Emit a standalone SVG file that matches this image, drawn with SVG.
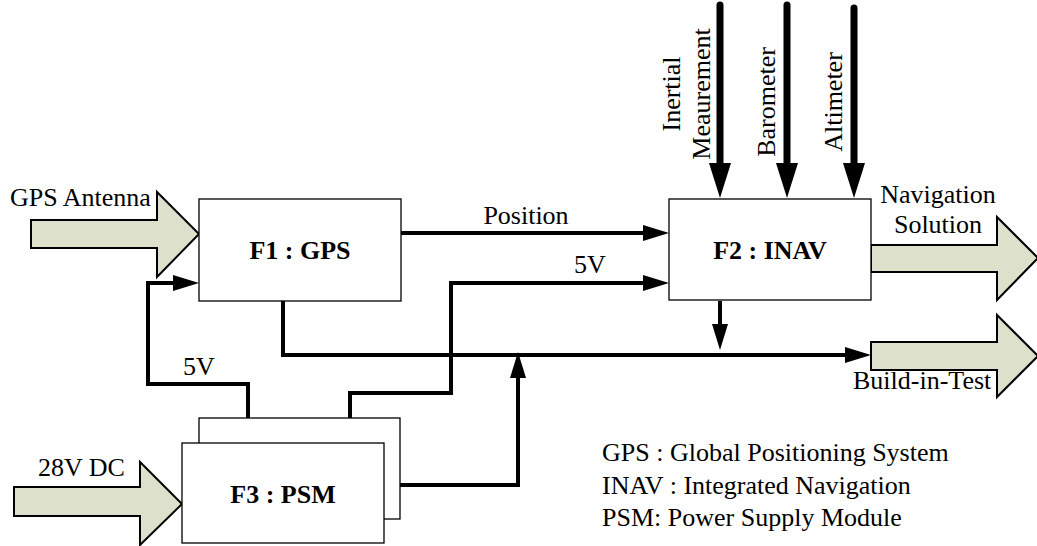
<svg xmlns="http://www.w3.org/2000/svg" width="1037" height="546" viewBox="0 0 1037 546">
<style>
.title{font-weight:bold;text-anchor:middle}
.box{fill:#fff;stroke:#000;stroke-width:1.3}
.fat{fill:#dde1cb;stroke:#000;stroke-width:2;stroke-linejoin:miter}
.wire{fill:none;stroke:#000;stroke-width:4;stroke-linejoin:miter}
.big{fill:none;stroke:#000;stroke-width:7;stroke-linecap:round}
</style>
<defs>
<marker id="ah" markerUnits="userSpaceOnUse" markerWidth="26" markerHeight="16" refX="16" refY="8" orient="auto" overflow="visible">
<path d="M0,0 L26,8 L0,16 Z" fill="#000"/>
</marker>
<marker id="bh" markerUnits="userSpaceOnUse" markerWidth="35" markerHeight="22" refX="20" refY="11" orient="auto" overflow="visible">
<path d="M0,0 L35,11 L0,22 Z" fill="#000"/>
</marker>
</defs>
<g font-family="'Liberation Serif', 'Times New Roman', serif" font-size="26" fill="#000">
<g id="inputs">
<polygon class="fat" points="31,220 157,220 157,192 199,234 157,277 157,248 31,248"/>
<text x="10" y="206">GPS Antenna</text>
<polygon class="fat" points="14,487 140,487 140,462 182,504 140,545 140,516 14,516"/>
<text x="38" y="476">28V DC</text>
</g>

<g id="outputs">
<polygon class="fat" points="871,245 997,245 997,217 1038,258 997,300 997,272 871,272"/>
<text x="938" y="203" text-anchor="middle">Navigation</text>
<text x="938" y="233" text-anchor="middle">Solution</text>
<polygon class="fat" points="871,342 997,342 997,315 1038,356 997,397 997,370 871,370"/>
<text x="853" y="389">Build-in-Test</text>
</g>

<g id="connectors">
<path class="wire" d="M401,233 H659" marker-end="url(#ah)"/>
<path class="wire" d="M350,418 V393 H451 V283 H659" marker-end="url(#ah)"/>
<path class="wire" d="M248,443 V384 H148 V283 H189" marker-end="url(#ah)"/>
<path class="wire" d="M283,301 V355 H861" marker-end="url(#ah)"/>
<path class="wire" d="M720,301 V340" marker-end="url(#ah)"/>
<path class="wire" d="M400,485 H518 V362" marker-end="url(#ah)"/>
<path class="big" d="M720,5 V183" marker-end="url(#bh)"/>
<path class="big" d="M787,5 V183" marker-end="url(#bh)"/>
<path class="big" d="M854,8 V183" marker-end="url(#bh)"/>
<text x="526" y="224" text-anchor="middle">Position</text>
<text x="590" y="273" text-anchor="middle">5V</text>
<text x="199" y="375" text-anchor="middle">5V</text>
<text transform="translate(680,94) rotate(-90)" text-anchor="middle">Inertial</text>
<text transform="translate(710,94) rotate(-90)" text-anchor="middle">Meaurement</text>
<text transform="translate(775,102) rotate(-90)" text-anchor="middle">Barometer</text>
<text transform="translate(842,102) rotate(-90)" text-anchor="middle">Altimeter</text>
</g>

<g id="F1">
<rect class="box" x="199" y="199" width="202" height="102"/>
<text class="title" x="300" y="259">F1 : GPS</text>
</g>

<g id="F2">
<rect class="box" x="669" y="199" width="202" height="101"/>
<text class="title" x="770" y="259">F2 : INAV</text>
</g>

<g id="F3">
<rect class="box" x="199" y="418" width="201" height="101"/>
<rect class="box" x="182" y="443" width="202" height="100"/>
<text class="title" x="283" y="503">F3 : PSM</text>
</g>

<g id="legend">
<text x="602" y="461">GPS : Global Positioning System</text>
<text x="602" y="494">INAV : Integrated Navigation</text>
<text x="602" y="526">PSM: Power Supply Module</text>
</g>
</g>
</svg>
